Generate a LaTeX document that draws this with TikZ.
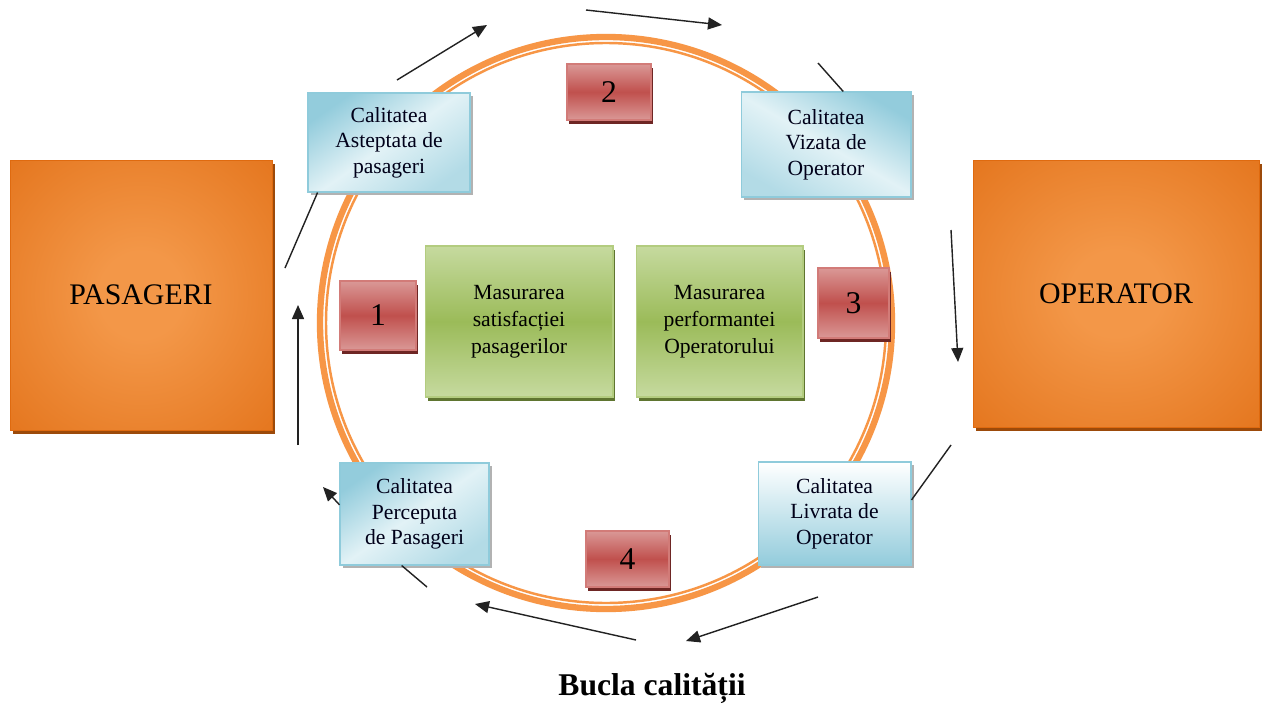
\documentclass[tikz,border=0pt]{standalone}
\usepackage{fontspec}
\setmainfont{Liberation Serif}
\usetikzlibrary{arrows.meta,shadows}
\definecolor{orC}{HTML}{F39748}
\definecolor{orE}{HTML}{DF6A0F}
\definecolor{orS}{HTML}{9C4A0A}
\definecolor{ring}{HTML}{F79646}
\definecolor{bluL}{HTML}{E2F2F6}
\definecolor{bluD}{HTML}{93CCDC}
\definecolor{bluB}{HTML}{8FCBDB}
\definecolor{grL}{HTML}{C6DA9F}
\definecolor{grD}{HTML}{9BBB59}
\definecolor{grB}{HTML}{B3CC7F}
\definecolor{grS}{HTML}{5F7530}
\definecolor{rdL}{HTML}{DA9896}
\definecolor{rdD}{HTML}{C0504D}
\definecolor{rdB}{HTML}{D27B78}
\definecolor{rdS}{HTML}{6E2624}
\definecolor{lineC}{HTML}{222222}
\pgfdeclareradialshading{orangeglow}{\pgfpoint{0bp}{0bp}}{color(0bp)=(orC); color(8bp)=(orC); color(46bp)=(orE); color(72bp)=(orE)}
\tikzset{
  bigbox/.style={shading=orangeglow, draw=orE, line width=0.4pt,
    general shadow={fill=orS, shadow xshift=0.06cm, shadow yshift=-0.08cm},
    font=\fontsize{17}{20}\selectfont, text=black},
  qbox/.style={draw=bluB, line width=0.6pt, top color=bluD, bottom color=bluD!70, middle color=bluL,
    shading angle=35,
    general shadow={fill=black!30, shadow xshift=0.06cm, shadow yshift=-0.06cm},
    align=center, font=\fontsize{12.3}{14.6}\selectfont, text=black!90!blue},
  mbox/.style={draw=grB, line width=0.6pt, top color=grL, bottom color=grL, middle color=grD,
    general shadow={fill=grS, shadow xshift=0.05cm, shadow yshift=-0.08cm},
    align=center, font=\fontsize{12.3}{15.3}\selectfont, text=black},
  nbox/.style={draw=rdB, line width=0.6pt, top color=rdL, bottom color=rdL, middle color=rdD,
    general shadow={fill=rdS, shadow xshift=0.04cm, shadow yshift=-0.08cm},
    font=\fontsize{18}{20}\selectfont, text=black},
  ln/.style={draw=lineC, line width=0.8pt},
  arr/.style={ln, -{Triangle[length=0.28cm,width=0.24cm]}},
}
\begin{document}
\begin{tikzpicture}[x=0.02cm,y=-0.02cm]
\useasboundingbox[fill=white] (0,0) rectangle (1266,706);
% ring
\draw[ring, line width=3.6pt] (606,323) circle[radius=286];
\draw[ring, line width=1.4pt] (606,323) circle[radius=280];
% big boxes
\node[bigbox, minimum width=5.24cm, minimum height=5.4cm] (pas) at (141,295) {PASAGERI};
\node[bigbox, minimum width=5.72cm, minimum height=5.34cm] (op) at (1116,293.5) {OPERATOR};
% quality boxes
\node[qbox, minimum width=3.24cm, minimum height=1.98cm] (ast) at (389,142.5) {Calitatea\\Asteptata de\\pasageri};
\node[qbox, minimum width=3.4cm, minimum height=2.1cm, shading angle=-30] (viz) at (826,144.5) {Calitatea\\Vizata de\\Operator};
\node[qbox, minimum width=2.98cm, minimum height=2.04cm] (perc) at (414.5,514) {Calitatea\\Perceputa\\de Pasageri};
\node[qbox, minimum width=3.06cm, minimum height=2.06cm, shading angle=0, top color=white, middle color=bluL, bottom color=bluD] (livr) at (834.5,513.5) {Calitatea\\Livrata de\\Operator};
% measurement boxes
\node[mbox, minimum width=3.76cm, minimum height=3.02cm] (g1) at (519,321.5) {Masurarea\\satisfacției\\pasagerilor};
\node[mbox, minimum width=3.34cm, minimum height=3.02cm] (g2) at (719.5,321.5) {Masurarea\\performantei\\Operatorului};
% number boxes
\node[nbox, minimum width=1.52cm, minimum height=1.38cm] (r1) at (378,315.5) {1};
\node[nbox, minimum width=1.68cm, minimum height=1.12cm] (r2) at (609,92) {2};
\node[nbox, minimum width=1.42cm, minimum height=1.4cm] (r3) at (853.5,303) {3};
\node[nbox, minimum width=1.66cm, minimum height=1.12cm] (r4) at (627.5,559) {4};
% free connector ends
\coordinate (c1a) at (285,268);
\coordinate (c2a) at (397,80);   \coordinate (c2b) at (487,25);
\coordinate (c3a) at (586,10);   \coordinate (c3b) at (722,25);
\coordinate (c4a) at (818,63);
\coordinate (c5a) at (951,230);  \coordinate (c5b) at (958,362);
\coordinate (c6a) at (951,445);
\coordinate (c7a) at (818,597);  \coordinate (c7b) at (686,641);
\coordinate (c8a) at (636,640);  \coordinate (c8b) at (475,604);
\coordinate (c9a) at (427,587);
\coordinate (c10b) at (323,487);
\coordinate (c11a) at (298,445); \coordinate (c11b) at (298,305);
% connectors
\draw[ln] (c1a) -- (ast.215);
\draw[arr] (c2a) -- (c2b);
\draw[arr] (c3a) -- (c3b);
\draw[ln] (c4a) -- (viz.72);
\draw[arr] (c5a) -- (c5b);
\draw[ln] (c6a) -- (livr.10);
\draw[arr] (c7a) -- (c7b);
\draw[arr] (c8a) -- (c8b);
\draw[ln] (c9a) -- (perc.256);
\draw[arr] (perc.173) -- (c10b);
\draw[arr] (c11a) -- (c11b);
% caption
\node[font=\bfseries\fontsize{18}{21}\selectfont] (title) at (652,688) {Bucla calității};
\end{tikzpicture}
\end{document}
